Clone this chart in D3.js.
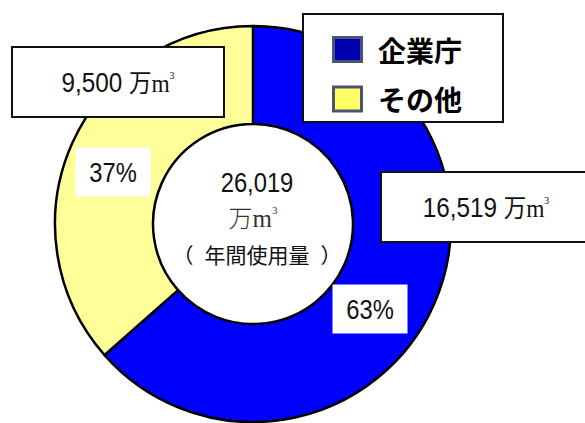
<!DOCTYPE html>
<html>
<head>
<meta charset="utf-8">
<script src="https://cdn.jsdelivr.net/npm/d3@7"></script>
<style>
  html, body { margin: 0; padding: 0; background: #fff; }
  svg { display: block; }
</style>
</head>
<body>
<svg id="chart" width="585" height="423"></svg>
<script>
// Annual water use, 万m³
const categories = ["企業庁", "その他"];
const values = [16519, 9500];
const colors = ["#0000FF", "#FFFF99"];
const legendColors = ["#0000B0", "#FFFF66"];
const totalLabel = "26,019";
const usageLabel = ["（", "年間使用量", "）"];

const svg = d3.select("#chart");
const cx = 253, cy = 224;
const outerR = 198, innerR = 100;

const total = d3.sum(values);
const fmt = d3.format(",");
const pct = v => Math.round(v / total * 100) + "%";

const pie = d3.pie().sort(null).value(d => d)(values);
const arc = d3.arc().innerRadius(innerR).outerRadius(outerR);

const donut = svg.append("g").attr("transform", `translate(${cx},${cy})`);
donut.selectAll("path")
  .data(pie)
  .join("path")
  .attr("d", arc)
  .attr("fill", (d, i) => colors[i])
  .attr("stroke", "#000")
  .attr("stroke-width", 2.5)
  .attr("stroke-linejoin", "round");

const numFont = "'Liberation Sans', Arial, sans-serif";
const cjkFont = "'Noto Sans CJK JP', sans-serif";
const serifFont = "'Liberation Serif', 'DejaVu Serif', serif";

// value text: number + 万m³, squeezed slightly horizontally
function valueText(parent, x, y, num, sx) {
  const g = parent.append("g").attr("transform", `translate(${x},${y}) scale(${sx},1)`);
  const t = g.append("text").attr("text-anchor", "middle").attr("fill", "#111");
  t.append("tspan").attr("font-family", numFont).attr("font-size", 27).text(num + " ");
  t.append("tspan").attr("font-family", cjkFont).attr("font-size", 25).text("万");
  t.append("tspan").attr("font-family", serifFont).attr("font-size", 26).text("m");
  t.append("tspan").attr("font-family", serifFont).attr("font-size", 11).attr("dy", -13).text("3");
  return g;
}

// percentage tags on the ring
const pctPos = [[370, 309], [113, 172]];
pie.forEach((d, i) => {
  const [px, py] = pctPos[i];
  svg.append("rect")
    .attr("x", px - 37.5).attr("y", py - 24.5)
    .attr("width", 75).attr("height", 49)
    .attr("fill", "#fff");
  svg.append("g")
    .attr("transform", `translate(${px},${py + 10}) scale(0.88,1)`)
    .append("text")
    .attr("text-anchor", "middle")
    .attr("font-family", numFont)
    .attr("font-size", 27)
    .attr("fill", "#111")
    .text(pct(d.value));
});

// value boxes
const boxes = [
  { i: 1, x: 12, y: 47, w: 212, h: 70, tx: 118, ty: 92 },
  { i: 0, x: 381, y: 172, w: 230, h: 70, tx: 486, ty: 217 }
];
boxes.forEach(b => {
  svg.append("rect")
    .attr("x", b.x).attr("y", b.y)
    .attr("width", b.w).attr("height", b.h)
    .attr("fill", "#fff")
    .attr("stroke", "#111")
    .attr("stroke-width", 2);
  valueText(svg, b.tx, b.ty, fmt(values[b.i]), 0.9);
});

// centre total
const centre = svg.append("g");
centre.append("g")
  .attr("transform", `translate(257,192) scale(0.88,1)`)
  .append("text")
  .attr("text-anchor", "middle")
  .attr("font-family", numFont)
  .attr("font-size", 27)
  .attr("fill", "#111")
  .text(totalLabel);
const unit = centre.append("text")
  .attr("x", 253).attr("y", 227)
  .attr("text-anchor", "middle")
  .attr("fill", "#333");
unit.append("tspan").attr("font-family", cjkFont).attr("font-size", 24).attr("font-weight", 300).text("万");
unit.append("tspan").attr("font-family", serifFont).attr("font-size", 25).text("m");
unit.append("tspan").attr("font-family", serifFont).attr("font-size", 11).attr("dy", -13).text("3");
const usage = centre.append("text")
  .attr("x", 257).attr("y", 263)
  .attr("text-anchor", "middle")
  .attr("font-family", cjkFont)
  .attr("font-size", 21)
  .attr("fill", "#111");
usage.append("tspan").text(usageLabel[0]);
usage.append("tspan").attr("dx", 11).text(usageLabel[1]);
usage.append("tspan").attr("dx", 11).text(usageLabel[2]);

// legend
const legend = svg.append("g");
legend.append("rect")
  .attr("x", 303).attr("y", 14)
  .attr("width", 200).attr("height", 108)
  .attr("fill", "#fff")
  .attr("stroke", "#111")
  .attr("stroke-width", 2);
const rowY = [49.5, 99];
categories.forEach((c, i) => {
  legend.append("rect")
    .attr("x", 333.5).attr("y", rowY[i] - 12)
    .attr("width", 28).attr("height", 24)
    .attr("fill", legendColors[i])
    .attr("stroke", "#4a5670")
    .attr("stroke-width", 3);
  legend.append("text")
    .attr("x", 378).attr("y", rowY[i])
    .attr("dominant-baseline", "central")
    .attr("font-family", cjkFont)
    .attr("font-weight", 700)
    .attr("font-size", 28)
    .attr("fill", "#000")
    .text(c);
});
</script>
</body>
</html>
